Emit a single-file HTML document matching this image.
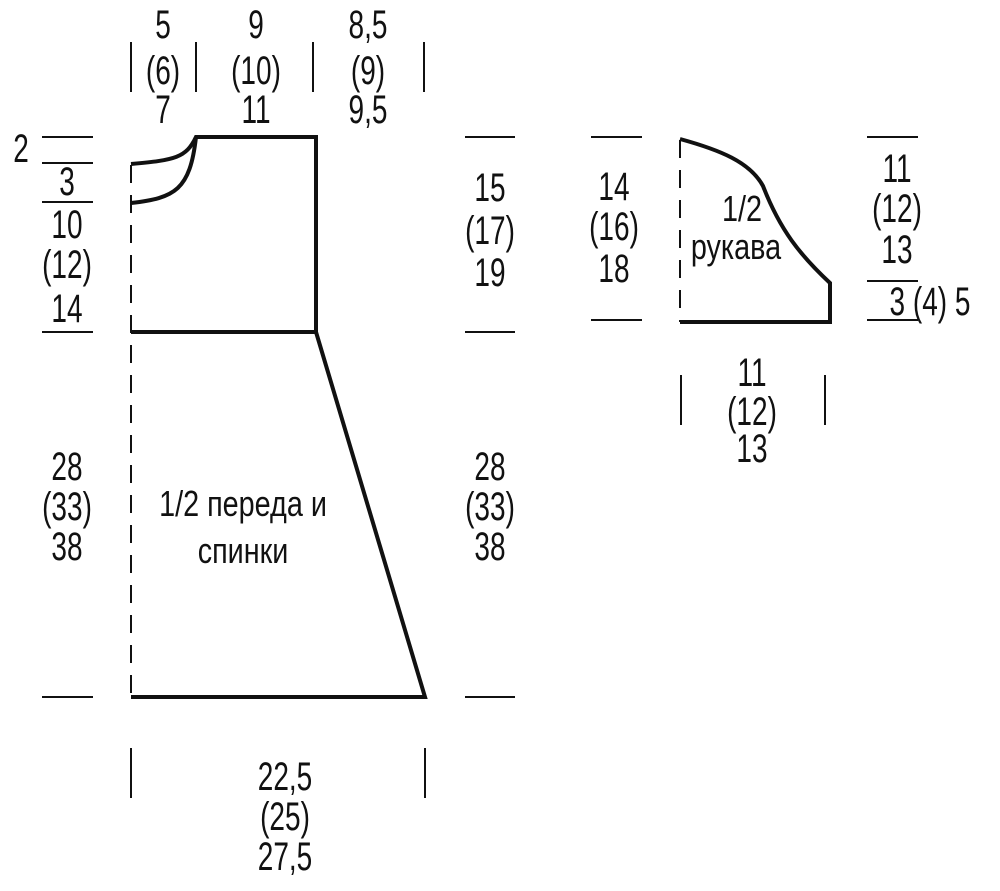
<!DOCTYPE html>
<html><head><meta charset="utf-8"><style>
html,body{margin:0;padding:0;background:#fff}
svg{display:block}
text{font-family:"Liberation Sans",sans-serif;font-size:40px;fill:#111;text-anchor:middle}
.s{font-size:36px}
</style></head><body>
<svg width="1000" height="891" viewBox="0 0 1000 891" xmlns="http://www.w3.org/2000/svg">
<g stroke="#111" stroke-width="2" fill="none">
<line x1="131" y1="42" x2="131" y2="92"/><line x1="196" y1="42" x2="196" y2="92"/>
<line x1="313" y1="42" x2="313" y2="92"/><line x1="424" y1="42" x2="424" y2="92"/>
<line x1="42" y1="137" x2="93" y2="137"/><line x1="42" y1="163" x2="93" y2="163"/>
<line x1="42" y1="202" x2="93" y2="202"/><line x1="42" y1="332" x2="93" y2="332"/>
<line x1="42" y1="697" x2="93" y2="697"/>
<line x1="465" y1="137" x2="515" y2="137"/><line x1="465" y1="332" x2="515" y2="332"/>
<line x1="465" y1="697" x2="515" y2="697"/>
<line x1="131" y1="748" x2="131" y2="798"/><line x1="425" y1="748" x2="425" y2="798"/>
<line x1="591" y1="137" x2="642" y2="137"/><line x1="591" y1="320" x2="642" y2="320"/>
<line x1="867" y1="137" x2="918" y2="137"/><line x1="867" y1="281" x2="918" y2="281"/>
<line x1="867" y1="320" x2="918" y2="320"/>
<line x1="681" y1="375" x2="681" y2="425"/><line x1="825" y1="375" x2="825" y2="425"/>
<line x1="131" y1="165" x2="131" y2="697" stroke-dasharray="18,12"/>
<line x1="680" y1="140" x2="680" y2="322" stroke-dasharray="18,12"/>
</g>
<g stroke="#111" stroke-width="4" fill="none" stroke-linejoin="miter">
<path d="M131,164 C175,160 186,158 196,137 L316,137 L316,332 L131,332"/>
<path d="M131,203 C175,198 190,190 196,137"/>
<path d="M316,332 L425,697 L131,697"/>
<path d="M680,139 C720,150 750,162 763,186 C780,230 800,255 830,283 L830,322 L680,322"/>
</g>
<g>
<text transform="translate(163,38) scale(0.7,1)">5</text>
<text transform="translate(163,84) scale(0.7,1)">(6)</text>
<text transform="translate(163,123) scale(0.7,1)">7</text>
<text transform="translate(256,38) scale(0.7,1)">9</text>
<text transform="translate(256,84) scale(0.7,1)">(10)</text>
<text transform="translate(256,123) scale(0.7,1)">11</text>
<text transform="translate(368,38) scale(0.7,1)">8,5</text>
<text transform="translate(368,84) scale(0.7,1)">(9)</text>
<text transform="translate(368,123) scale(0.7,1)">9,5</text>
<text transform="translate(21,162) scale(0.7,1)">2</text>
<text transform="translate(67,195) scale(0.7,1)">3</text>
<text transform="translate(67,238) scale(0.7,1)">10</text>
<text transform="translate(67,278) scale(0.7,1)">(12)</text>
<text transform="translate(67,322) scale(0.7,1)">14</text>
<text transform="translate(490,201) scale(0.7,1)">15</text>
<text transform="translate(490,244) scale(0.7,1)">(17)</text>
<text transform="translate(490,286) scale(0.7,1)">19</text>
<text transform="translate(67,480) scale(0.7,1)">28</text>
<text transform="translate(67,520) scale(0.7,1)">(33)</text>
<text transform="translate(67,560) scale(0.7,1)">38</text>
<text transform="translate(490,480) scale(0.7,1)">28</text>
<text transform="translate(490,520) scale(0.7,1)">(33)</text>
<text transform="translate(490,560) scale(0.7,1)">38</text>
<text class="s" transform="translate(243,516) scale(0.8,1)">1/2 переда и</text>
<text class="s" transform="translate(243,563) scale(0.8,1)">спинки</text>
<text transform="translate(285,790) scale(0.7,1)">22,5</text>
<text transform="translate(285,830) scale(0.7,1)">(25)</text>
<text transform="translate(285,870) scale(0.7,1)">27,5</text>
<text transform="translate(614,200) scale(0.7,1)">14</text>
<text transform="translate(614,240) scale(0.7,1)">(16)</text>
<text transform="translate(614,282) scale(0.7,1)">18</text>
<text class="s" transform="translate(742,221) scale(0.8,1)">1/2</text>
<text class="s" transform="translate(736,259) scale(0.8,1)">рукава</text>
<text transform="translate(897,182) scale(0.7,1)">11</text>
<text transform="translate(897,222) scale(0.7,1)">(12)</text>
<text transform="translate(897,263) scale(0.7,1)">13</text>
<text transform="translate(930,315) scale(0.7,1)">3 (4) 5</text>
<text transform="translate(752,386) scale(0.7,1)">11</text>
<text transform="translate(752,425) scale(0.7,1)">(12)</text>
<text transform="translate(752,462) scale(0.7,1)">13</text>
</g>
</svg>
</body></html>
